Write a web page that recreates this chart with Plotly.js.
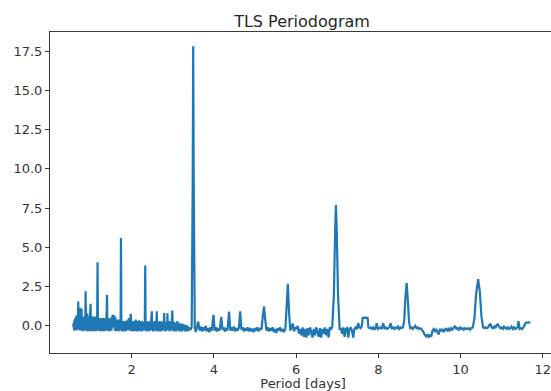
<!DOCTYPE html>
<html>
<head>
<meta charset="utf-8">
<script src="https://cdn.plot.ly/plotly-3.0.1.min.js"></script>
<style>html,body{margin:0;padding:0;background:#fff;overflow:hidden;}#chart{width:556px;height:391px;}</style>
</head>
<body>
<div id="chart"></div>
<script>
// Short-period dense region (0.58 - 1.20 d)
const periodA = [0.58,0.59,0.60,0.61,0.62,0.63,0.64,0.65,0.66,0.67,
  0.68,0.69,0.70,0.71,0.72,0.73,0.74,0.75,0.76,0.77,
  0.78,0.79,0.80,0.81,0.82,0.83,0.84,0.85,0.86,0.87,
  0.88,0.89,0.90,0.91,0.92,0.93,0.94,0.95,0.96,0.97,
  0.98,0.99,1.00,1.01,1.02,1.03,1.04,1.05,1.06,1.07,
  1.08,1.09,1.10,1.11,1.12,1.13,1.14,1.15,1.16,1.17,
  1.18,1.19,1.20];
const powerA = [-0.1,0.2,-0.3,0.4,-0.3,0.5,-0.2,0.6,-0.3,0.5,
  0.7,-0.2,1.55,-0.1,0.6,-0.3,1.15,0.2,0.6,-0.3,
  1.1,-0.2,0.5,-0.35,0.6,-0.3,0.5,-0.2,0.6,-0.3,
  2.2,-0.2,0.5,-0.35,0.8,-0.2,0.5,-0.3,0.6,-0.35,
  0.4,-0.2,1.4,-0.3,0.5,-0.35,0.6,-0.2,0.5,-0.35,
  0.5,-0.3,0.6,-0.2,0.4,-0.35,0.5,-0.3,0.3,4.05,
  -0.2,0.4,-0.3];

// 1.21 - 1.80 d
const periodB = [1.21,1.22,1.23,1.24,1.25,1.26,1.27,1.28,1.29,1.30,
  1.31,1.32,1.33,1.34,1.35,1.36,1.37,1.38,1.39,1.40,
  1.41,1.42,1.43,1.44,1.45,1.46,1.47,1.48,1.49,1.50,
  1.51,1.52,1.53,1.54,1.55,1.56,1.57,1.58,1.59,1.60,
  1.61,1.62,1.63,1.64,1.65,1.66,1.67,1.68,1.69,1.70,
  1.71,1.72,1.73,1.74,1.75,1.76,1.77,1.78,1.79,1.80];
const powerB = [0.5,-0.35,0.4,-0.2,0.5,-0.35,0.4,-0.3,0.5,-0.35,
  0.4,-0.2,0.5,-0.35,0.3,-0.3,0.4,-0.3,0.3,1.97,
  -0.2,0.4,-0.35,0.5,-0.3,0.3,-0.35,0.4,-0.2,0.5,
  -0.3,0.6,0.2,0.7,-0.1,0.7,0.1,0.6,-0.3,0.6,
  -0.35,0.3,-0.3,0.4,-0.35,0.3,-0.2,0.4,-0.35,0.3,
  -0.3,0.2,-0.2,5.6,-0.3,0.3,-0.35,0.2,-0.3,0.3];

// 1.81 - 3.40 d
const periodC = [1.81,1.82,1.83,1.84,1.85,1.86,1.87,1.88,1.89,1.90,
  1.91,1.92,1.93,1.94,1.95,1.96,1.97,1.98,1.99,2.00,
  2.01,2.02,2.03,2.04,2.05,2.06,2.07,2.08,2.09,2.10,
  2.11,2.12,2.13,2.14,2.15,2.16,2.17,2.18,2.19,2.20,
  2.21,2.22,2.23,2.24,2.25,2.26,2.27,2.28,2.29,2.30,
  2.31,2.32,2.33,2.34,2.35,2.36,2.37,2.38,2.39,2.40,
  2.41,2.42,2.43,2.44,2.45,2.46,2.47,2.48,2.49,2.50,
  2.51,2.52,2.53,2.54,2.55,2.56,2.57,2.58,2.59,2.60,
  2.61,2.62,2.63,2.64,2.65,2.66,2.67,2.68,2.69,2.70,
  2.71,2.72,2.73,2.74,2.75,2.76,2.77,2.78,2.79,2.80,
  2.81,2.82,2.83,2.84,2.85,2.86,2.87,2.88,2.89,2.90,
  2.91,2.92,2.93,2.94,2.95,2.96,2.97,2.98,2.99,3.00,
  3.01,3.02,3.03,3.04,3.05,3.06,3.07,3.08,3.09,3.10,
  3.11,3.12,3.13,3.14,3.15,3.16,3.17,3.18,3.19,3.20,
  3.21,3.22,3.23,3.24,3.25,3.26,3.27,3.28,3.29,3.30,
  3.31,3.32,3.33,3.34,3.35,3.36,3.37,3.38,3.39,3.40];
const powerC = [-0.35,0.3,-0.3,0.2,-0.35,0.3,-0.25,0.2,-0.3,0.4,
  -0.3,0.3,-0.2,0.5,-0.3,0.4,-0.1,0.76,-0.35,0.3,
  -0.3,0.3,-0.35,0.2,-0.3,0.25,-0.2,0.3,-0.35,0.4,
  -0.3,0.2,-0.35,0.25,-0.2,0.3,-0.3,0.35,-0.35,0.2,
  -0.3,0.25,-0.25,0.3,-0.35,0.2,-0.3,0.25,-0.2,0.1,
  -0.3,0.2,3.84,-0.3,0.2,-0.35,0.25,-0.3,0.2,-0.25,
  0.3,-0.35,0.2,-0.3,0.25,-0.3,0.2,-0.2,0.92,-0.3,
  0.2,-0.35,0.25,-0.3,0.2,-0.25,0.3,-0.3,0.2,-0.35,
  0.92,-0.3,0.2,-0.3,0.25,-0.35,0.2,-0.3,0.3,-0.25,
  0.2,-0.35,0.25,-0.3,0.2,-0.25,0.3,-0.3,0.82,-0.25,
  0.2,-0.35,0.25,-0.3,0.2,-0.3,0.8,-0.3,0.2,-0.25,
  0.3,-0.35,0.2,-0.3,0.25,-0.3,0.2,-0.2,0.97,-0.3,
  0.2,-0.35,0.25,-0.3,0.15,-0.25,0.2,-0.35,0.15,-0.3,
  0.3,-0.3,0.15,-0.25,0.2,-0.35,0.1,-0.3,0.15,-0.25,
  0.1,-0.35,0.15,-0.3,0.05,-0.25,0.1,-0.3,0.05,-0.35,
  0.0,-0.3,0.05,-0.25,0.0,-0.35,-0.05,-0.2,-0.3,-0.1];

// Main peak near 3.5 d
const periodP = [3.43,3.46,3.485,3.497,3.51,3.535];
const powerP = [-0.25,-0.1,9.0,17.8,9.0,-0.1];

const periodD = [3.56,3.59,3.62,3.65,3.68,3.71,3.74,3.77,3.80,3.83,
  3.86,3.89,3.92,3.95,3.99,4.02,4.05,4.08,4.11,4.14,
  4.18,4.21,4.24,4.27,4.30,4.33,4.37,4.40,4.43,4.46,
  4.49,4.52,4.55,4.58,4.61,4.64,4.67,4.70,4.73,4.76,
  4.79,4.82,4.85,4.88,4.91,4.94,4.97,5.00,5.03,5.06,
  5.09,5.12,5.16,5.19,5.22,5.25,5.28,5.31,5.34,5.37,
  5.40,5.43,5.46,5.49,5.52,5.55,5.58,5.61,5.64,5.67,
  5.70,5.74,5.77,5.80,5.83,5.86,5.89];
const powerD = [-0.4,-0.1,0.27,-0.3,-0.05,-0.35,-0.1,-0.3,0.0,-0.35,
  -0.15,-0.4,-0.1,-0.3,0.7,-0.3,-0.1,-0.35,-0.15,-0.3,
  0.57,-0.25,-0.1,-0.35,-0.15,-0.3,0.91,-0.3,-0.1,-0.3,
  -0.05,-0.35,-0.15,-0.3,-0.1,0.93,-0.25,-0.1,-0.35,-0.15,
  -0.3,-0.1,-0.35,-0.15,-0.3,-0.2,-0.4,-0.15,-0.3,-0.1,
  -0.35,-0.2,-0.2,0.6,1.23,0.4,-0.3,-0.1,-0.35,-0.15,
  -0.3,-0.1,-0.4,-0.2,-0.45,-0.15,-0.3,-0.1,-0.35,-0.2,
  -0.4,-0.2,1.0,2.68,0.8,-0.3,-0.1];

const periodE = [5.92,5.95,5.98,6.01,6.04,6.07,6.10,6.13,6.16,6.19,
  6.22,6.25,6.28,6.31,6.34,6.37,6.40,6.43,6.46,6.49,
  6.52,6.55,6.58,6.61,6.64,6.67,6.70,6.73,6.76,6.79,
  6.82,6.85,6.88,6.92,6.95,6.97,6.99,7.02,7.06];
const powerE = [0.15,-0.35,-0.1,-0.2,0.0,-0.5,-0.2,-0.6,-0.1,-0.7,
  -0.2,-0.75,-0.15,-0.6,-0.1,-0.4,-0.75,-0.2,-0.6,-0.1,
  -0.4,-0.7,-0.15,-0.75,-0.2,-0.5,-0.1,-0.6,-0.2,-0.75,
  -0.1,-0.2,-0.1,2.0,6.0,7.7,6.0,2.0,-0.2];

const periodF = [7.09,7.12,7.15,7.18,7.21,7.24,7.27,7.30,7.33,7.36,
  7.39,7.42,7.45,7.48,7.51,7.54,7.57,7.60,7.62,7.66,
  7.70,7.74,7.76,7.79,7.82,7.85,7.88,7.91,7.94,7.96,
  7.99,8.02,8.05,8.08,8.12,8.15,8.18,8.21,8.24,8.27,
  8.30,8.33,8.36,8.39,8.42,8.45,8.48,8.51,8.54,8.57,
  8.60,8.63,8.66,8.69,8.72,8.75,8.78];
const powerF = [-0.2,-0.5,-0.1,-0.7,-0.2,-0.15,-0.75,-0.2,-0.1,-0.3,
  -0.75,-0.2,-0.1,-0.2,0.17,-0.1,-0.15,0.0,0.5,0.52,
  0.5,0.5,-0.1,-0.15,-0.1,-0.2,-0.1,-0.25,-0.1,0.17,
  -0.2,-0.15,-0.1,-0.2,0.17,-0.15,-0.1,-0.2,-0.15,-0.1,
  0.17,-0.15,-0.1,-0.2,-0.1,-0.15,-0.05,-0.2,-0.1,-0.15,
  -0.1,0.3,1.8,2.72,1.6,0.2,-0.15];

const periodG = [8.81,8.84,8.87,8.90,8.93,8.96,8.99,9.02,9.05,9.08,
  9.11,9.14,9.17,9.20,9.23,9.26,9.29,9.32,9.35,9.38,
  9.41,9.44,9.47,9.50,9.53,9.56,9.59,9.62,9.65,9.68,
  9.71,9.74,9.77,9.80,9.84,9.87,9.90,9.93,9.96,9.99,
  10.02,10.05,10.08,10.11,10.14,10.17,10.20,10.23,10.26,10.30,
  10.34,10.38,10.43,10.47,10.51,10.55];
const powerG = [-0.1,-0.2,-0.05,0.0,-0.15,-0.1,-0.2,-0.15,-0.2,-0.3,
  -0.45,-0.6,-0.68,-0.55,-0.7,-0.6,-0.68,-0.3,-0.2,-0.35,
  -0.25,-0.4,-0.55,-0.2,-0.35,-0.2,-0.4,-0.25,-0.15,-0.35,
  -0.2,-0.3,-0.15,-0.25,-0.1,0.0,-0.2,-0.15,-0.25,-0.1,
  -0.2,-0.15,-0.25,-0.15,-0.2,-0.2,-0.15,-0.25,-0.15,-0.1,
  0.5,2.0,2.97,2.2,0.6,-0.1];

const periodH = [10.58,10.61,10.64,10.67,10.70,10.73,10.76,10.79,10.82,10.85,
  10.88,10.91,10.94,10.97,11.00,11.03,11.06,11.09,11.12,11.15,
  11.18,11.21,11.24,11.27,11.30,11.33,11.36,11.39,11.41,11.44,
  11.47,11.50,11.53,11.56,11.59,11.62,11.66,11.70];
const powerH = [-0.15,-0.1,-0.15,-0.1,0.05,0.1,-0.1,-0.15,-0.05,-0.15,
  0.05,0.1,-0.05,-0.15,-0.1,-0.2,-0.05,-0.15,-0.2,-0.1,
  -0.2,-0.15,-0.05,-0.2,-0.1,-0.2,-0.15,-0.1,0.3,-0.2,
  -0.15,-0.2,-0.1,0.1,0.2,0.2,0.2,0.22];

const xTickVals = [2,4,6,8,10,12];
const xTickText = ['2','4','6','8','10','12'];
const yTickVals = [0,2.5,5,7.5,10,12.5,15,17.5];
const yTickText = ['0.0','2.5','5.0','7.5','10.0','12.5','15.0','17.5'];

const period = [].concat(periodA, periodB, periodC, periodP, periodD, periodE, periodF, periodG, periodH);
const power = [].concat(powerA, powerB, powerC, powerP, powerD, powerE, powerF, powerG, powerH);

const font = 'DejaVu Sans, sans-serif';
const axisColor = '#3a3a3a';
const W = 556;

Plotly.newPlot('chart', [{
  x: period, y: power, type: 'scatter', mode: 'lines',
  line: {color: '#1f77b4', width: 2.2},
  hoverinfo: 'skip'
}], {
  width: W, height: 391,
  margin: {l: 50, r: 0, t: 32, b: 38, pad: 0},
  paper_bgcolor: '#fff', plot_bgcolor: '#fff',
  showlegend: false,
  title: {text: 'TLS Periodogram', font: {family: font, size: 16, color: '#262626'},
    x: 302/W, xref: 'container', xanchor: 'center',
    y: 1 - 21/391, yref: 'container', yanchor: 'middle'},
  xaxis: {
    range: [0.013, 12.324], showgrid: false, zeroline: false,
    showline: true, linecolor: axisColor, linewidth: 1, mirror: true,
    ticks: 'outside', ticklen: 4, tickwidth: 1, tickcolor: axisColor,
    tickvals: xTickVals, ticktext: xTickText, ticklabeloverflow: 'allow',
    tickfont: {family: font, size: 13, color: '#333'},
    title: {text: 'Period [days]', font: {family: font, size: 13, color: '#333'}, standoff: 3},
    automargin: false
  },
  yaxis: {
    range: [-1.73, 18.71], showgrid: false, zeroline: false,
    showline: true, linecolor: axisColor, linewidth: 1,
    ticks: 'outside', ticklen: 4, tickwidth: 1, tickcolor: axisColor,
    tickvals: yTickVals, ticktext: yTickText,
    tickfont: {family: font, size: 13, color: '#333'},
    automargin: false
  }
}, {staticPlot: true, displayModeBar: false});
</script>
</body>
</html>
